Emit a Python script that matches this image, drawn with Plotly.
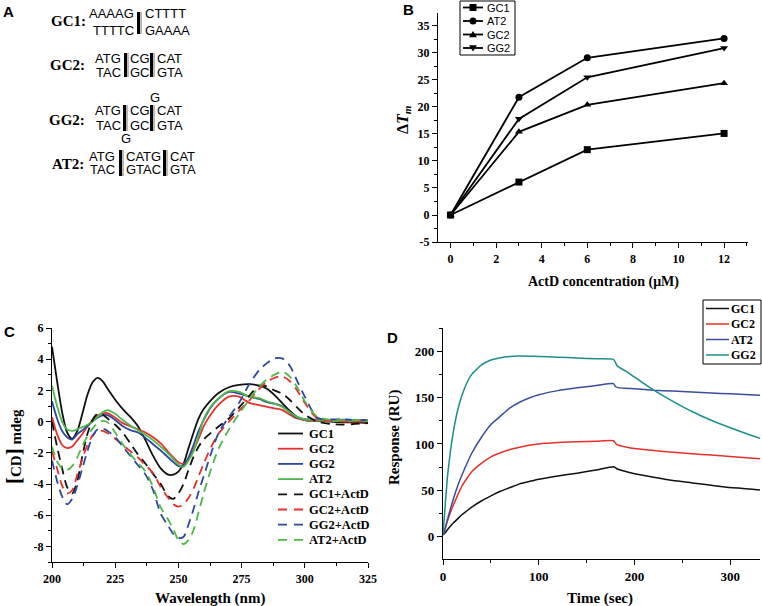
import plotly.graph_objects as go

W, H = 762, 606
SERIF = "Liberation Serif"
SANS = "Liberation Sans"

# ---- panel B: Tm shift vs ActD concentration ----
conc = [0, 3, 6, 12]
dtm_gc1 = [0, 6.1, 12.1, 15.1]
dtm_at2 = [0, 21.8, 29.1, 32.7]
dtm_gc2 = [0, 15.4, 20.4, 24.4]
dtm_gg2 = [0, 17.8, 25.5, 30.9]
b_names = ["GC1", "AT2", "GC2", "GG2"]
b_yticks = [-5, 0, 5, 10, 15, 20, 25, 30, 35]

# ---- panel C: CD spectra ----
wl = [200, 202, 204, 206, 208, 210, 212, 214, 216, 218, 220, 222, 225, 228, 231,
      234, 237, 240, 243, 246, 248, 250, 252, 254, 256, 258, 260, 263, 266, 270,
      274, 278, 282, 285, 288, 291, 294, 297, 300, 305, 310, 315, 320, 325]
cd_gc1 = [4.8, 2.6, 0.6, -0.7, -1.1, -0.6, 0.5, 1.7, 2.5, 2.8, 2.6, 2.1, 1.4, 0.8, 0.3,
          -0.3, -1.2, -2.2, -3.0, -3.4, -3.4, -3.2, -2.7, -1.7, -0.7, 0.2, 0.8, 1.4, 1.85, 2.2,
          2.35, 2.4, 2.3, 2.1, 1.7, 1.2, 0.7, 0.3, 0.1, 0.05, 0.0, -0.05, -0.05, -0.1]
cd_gc2 = [0.3, -0.8, -1.5, -1.7, -1.6, -1.2, -0.8, -0.3, 0.1, 0.4, 0.53, 0.55, 0.25, -0.1, -0.3,
          -0.5, -0.7, -1.0, -1.4, -1.95, -2.3, -2.6, -2.7, -2.4, -1.8, -1.1, -0.3, 0.5, 1.1, 1.6,
          1.6, 1.2, 1.05, 0.95, 0.85, 0.75, 0.45, 0.2, 0.1, 0.05, 0.05, 0.0, 0.0, 0.0]
cd_gg2 = [1.3, 0.2, -0.6, -1.0, -1.15, -0.8, -0.55, -0.3, 0.0, 0.25, 0.4, 0.42, 0.1, -0.3, -0.55,
          -0.7, -1.05, -1.45, -1.85, -2.3, -2.6, -2.85, -2.8, -2.3, -1.5, -0.6, 0.1, 0.95, 1.5, 1.9,
          1.8, 1.6, 1.45, 1.25, 1.15, 1.0, 0.6, 0.25, 0.15, 0.12, 0.1, 0.12, 0.1, 0.1]
cd_at2 = [2.3, 1.0, 0.0, -0.5, -0.6, -0.5, -0.35, -0.2, 0.0, 0.3, 0.6, 0.74, 0.5, 0.1, -0.25,
          -0.55, -0.85, -1.2, -1.6, -2.05, -2.4, -2.75, -2.9, -2.5, -1.9, -0.9, 0.15, 1.0, 1.5, 1.95,
          1.9, 1.6, 1.5, 1.3, 1.15, 0.95, 0.6, 0.3, 0.15, 0.1, 0.05, 0.05, 0.05, 0.05]
cd_gc1_actd = [0.0, -1.6, -3.0, -4.2, -4.6, -3.8, -2.2, -0.8, 0.1, 0.5, 0.45, 0.2, -0.2, -0.7, -1.4,
               -2.1, -2.7, -3.35, -4.0, -4.8, -4.95, -4.6, -4.0, -3.1, -2.25, -1.6, -1.15, -0.7, -0.3, 0.2,
               0.9, 1.65, 2.3, 2.25, 2.0, 1.8, 1.4, 0.9, 0.45, 0.0, -0.15, -0.2, -0.15, -0.1]
cd_gc2_actd = [-1.9, -3.0, -4.1, -4.6, -4.4, -3.4, -2.4, -1.5, -0.9, -0.6, -0.6, -0.75, -1.1, -1.5, -1.9,
               -2.3, -2.8, -3.3, -4.2, -4.9, -5.3, -5.45, -5.3, -4.9, -4.3, -3.5, -2.7, -1.6, -0.75, 0.0,
               0.7, 1.35, 2.1, 2.55, 2.8, 2.9, 2.6, 2.0, 1.2, 0.2, 0.05, 0.05, 0.05, 0.05]
cd_gg2_actd = [-2.5, -3.8, -4.8, -5.3, -4.95, -4.1, -3.0, -1.9, -0.95, -0.5, -0.45, -0.6, -1.0, -1.6, -2.2,
               -2.8, -3.4, -4.4, -5.9, -6.7, -7.2, -7.45, -7.4, -6.6, -5.6, -4.5, -3.5, -2.0, -0.7, 0.3,
               1.2, 2.4, 3.3, 3.75, 4.05, 4.05, 3.6, 2.6, 1.6, 0.25, 0.15, 0.15, 0.1, 0.1]
cd_at2_actd = [-1.6, -2.55, -3.0, -3.1, -2.85, -2.3, -1.55, -0.95, -0.45, -0.1, 0.05, -0.05, -0.7, -1.45, -2.1,
               -2.65, -3.2, -4.2, -5.5, -6.3, -6.9, -7.6, -7.85, -7.6, -6.95, -5.8, -4.6, -3.0, -1.7, -0.5,
               0.5, 1.4, 2.25, 2.7, 3.0, 3.2, 2.9, 2.2, 1.3, 0.3, 0.12, 0.1, 0.1, 0.1]
c_names = ["GC1", "GC2", "GG2", "AT2", "GC1+ActD", "GC2+ActD", "GG2+ActD", "AT2+ActD"]
c_yticks = [-8, -6, -4, -2, 0, 2, 4, 6]

# ---- panel D: SPR sensorgrams ----
t = [0, 2, 5, 10, 15, 20, 25, 30, 40, 50, 60, 70, 80, 90, 100, 120, 140, 160, 178,
     180, 182, 190, 200, 220, 240, 260, 280, 300, 320, 331]
ru_gc1 = [2, 4, 8, 14, 19, 24, 28, 32, 38.5, 44, 49, 53, 57, 59.5, 62, 65.5, 68.5, 72, 75.5,
          74.5, 73, 70.5, 68, 64, 60.5, 58, 55.5, 53, 51.5, 50.5]
ru_gc2 = [2, 8, 18, 32, 44, 55, 63, 70, 79, 86, 90.5, 94, 96.5, 98.5, 100, 101.5, 102.5, 103, 103.5,
          101, 99, 97, 95, 93, 91, 89.5, 88, 86.5, 85, 84]
ru_at2 = [2, 8, 20, 38, 54, 67, 79, 90, 107, 121, 130, 139, 145, 149.5, 153, 157.5, 160.5, 163, 165,
          162, 161, 160, 159.5, 158, 157, 156, 155, 154, 153, 152.5]
ru_gg2 = [2, 30, 68, 108, 135, 153, 166, 175, 185, 190.5, 193, 194.3, 194.7, 194.6, 194.3, 193.6, 192.7, 191.8, 191.2,
          188, 184, 179, 172, 158, 146, 135, 125.5, 117.5, 110, 106]
d_names = ["GC1", "GC2", "AT2", "GG2"]


def px(x):
    return x / W


def py(y):
    return 1 - y / H


fig = go.Figure()

# B
for name, vals, sym in zip(b_names, [dtm_gc1, dtm_at2, dtm_gc2, dtm_gg2],
                           ["square", "circle", "triangle-up", "triangle-down"]):
    fig.add_trace(go.Scatter(x=conc, y=vals, name=name, mode="lines+markers",
                             line=dict(color="black", width=1.8),
                             marker=dict(symbol=sym, size=7, color="black"),
                             xaxis="x", yaxis="y", showlegend=False))

# C
c_colors = ["#111111", "#e8302a", "#2c47a0", "#4db848"] * 2
c_series = [cd_gc1, cd_gc2, cd_gg2, cd_at2, cd_gc1_actd, cd_gc2_actd, cd_gg2_actd, cd_at2_actd]
for i, (name, vals) in enumerate(zip(c_names, c_series)):
    fig.add_trace(go.Scatter(x=wl, y=vals, name=name, mode="lines",
                             line=dict(color=c_colors[i], width=1.8, shape="spline", smoothing=0.8,
                                       dash="solid" if i < 4 else "9px,6px"),
                             xaxis="x2", yaxis="y2", showlegend=False))

# D
d_colors = ["#111111", "#e8302a", "#3a4ea0", "#1a8f8a"]
for name, vals, col in zip(d_names, [ru_gc1, ru_gc2, ru_at2, ru_gg2], d_colors):
    fig.add_trace(go.Scatter(x=t, y=vals, name=name, mode="lines",
                             line=dict(color=col, width=1.5, shape="spline", smoothing=0.5),
                             xaxis="x3", yaxis="y3", showlegend=False))


def ax(domain, rng, anchor, dtick, mdtick, size=12, **kw):
    d = dict(domain=domain, range=rng, anchor=anchor, showline=True, linecolor="black",
             linewidth=1.3, ticks="outside", ticklen=5, tickwidth=1.2, tickcolor="black",
             showgrid=False, zeroline=False, dtick=dtick, tick0=0, automargin=False,
             tickfont=dict(family=SERIF, size=size, color="black", weight="bold"),
             minor=dict(ticks="outside", ticklen=3, tickwidth=1, tickcolor="black", dtick=mdtick, tick0=0))
    d.update(kw)
    return d


fig.update_layout(
    width=W, height=H, margin=dict(l=0, r=0, t=0, b=0, autoexpand=False),
    paper_bgcolor="white", plot_bgcolor="white",
    xaxis=ax([px(438), px(748)], [-0.55, 13.05], "y", 2, 1),
    yaxis=ax([py(242), py(13)], [-5, 37.4], "x", 5, 2.5,
             tickvals=b_yticks, ticktext=[str(v) for v in b_yticks]),
    xaxis2=ax([px(52), px(368)], [200, 325], "y2", 25, 12.5),
    yaxis2=ax([py(562), py(328)], [-9, 6], "x2", 2, 1,
              tickvals=c_yticks, ticktext=[str(v) for v in c_yticks]),
    xaxis3=ax([px(443), px(760)], [0, 331], "y3", 100, 50, size=13),
    yaxis3=ax([py(559), py(328)], [-24, 225], "x3", 50, 25, size=13),
)

ann = []
shapes = []


def text(s, x, y, size=13, family=SANS, xanchor="center", angle=0, bold=False):
    ann.append(dict(text="<b>%s</b>" % s if bold else s, x=px(x), y=py(y), xref="paper", yref="paper",
                    xanchor=xanchor, yanchor="middle", showarrow=False, textangle=angle,
                    font=dict(family=family, size=size, color="black")))


def bar(x, y0, y1):
    shapes.append(dict(type="rect", xref="paper", yref="paper", x0=px(x + 3), x1=px(x + 5),
                       y0=py(y1), y1=py(y0), fillcolor="#b8b8b8", line=dict(width=0)))
    shapes.append(dict(type="rect", xref="paper", yref="paper", x0=px(x), x1=px(x + 3),
                       y0=py(y1), y1=py(y0), fillcolor="black", line=dict(width=0)))


# panel labels
text("A", 8, 11, 15, bold=True)
text("B", 408, 9, 15, bold=True)
text("C", 9, 331, 15, bold=True)
text("D", 392, 337, 15, bold=True)

# panel A: duplex sequences
text("GC1:", 88, 21, 15, SERIF, "right", bold=True)
text("AAAAG", 136, 14, xanchor="right")
text("TTTTC", 136, 30, xanchor="right")
bar(137, 12, 34)
text("CTTTT", 143, 14, xanchor="left")
text("GAAAA", 143, 30, xanchor="left")

text("GC2:", 87, 65, 15, SERIF, "right", bold=True)
text("ATG", 123, 58, xanchor="right")
text("TAC", 123, 72, xanchor="right")
bar(124, 53, 77)
text("CG", 128, 58, xanchor="left")
text("GC", 128, 72, xanchor="left")
bar(150, 53, 77)
text("CAT", 155, 58, xanchor="left")
text("GTA", 155, 72, xanchor="left")

text("GG2:", 87, 120, 15, SERIF, "right", bold=True)
text("G", 155, 98)
text("ATG", 123, 111, xanchor="right")
text("TAC", 123, 126, xanchor="right")
bar(123, 105, 131)
text("CG", 128, 111, xanchor="left")
text("GC", 128, 126, xanchor="left")
bar(150, 105, 131)
text("CAT", 155, 111, xanchor="left")
text("GTA", 155, 126, xanchor="left")
text("G", 126, 138)

text("AT2:", 86, 164, 15, SERIF, "right", bold=True)
text("ATG", 117, 156, xanchor="right")
text("TAC", 117, 170, xanchor="right")
bar(119, 150, 176)
text("CATG", 124, 156, xanchor="left")
text("GTAC", 124, 170, xanchor="left")
bar(163, 150, 176)
text("CAT", 168, 156, xanchor="left")
text("GTA", 168, 170, xanchor="left")

# axis titles
text("ActD concentration (μM)", 603, 282, 14, SERIF, bold=True)
text("Δ<i>T</i><sub><i>m</i></sub>", 404, 120, 16, SERIF, angle=-90, bold=True)
text("Wavelength (nm)", 210, 598, 15, SERIF, bold=True)
text("<span style='font-size:21px'>[</span>CD<span style='font-size:21px'>]</span> mdeg",
     14, 447, 15, SERIF, angle=-90, bold=True)
text("Time (sec)", 600, 598, 15, SERIF, bold=True)
text("Response (RU)", 394, 438, 15, SERIF, angle=-90, bold=True)


def hline(x0, x1, y, color, width, dash="solid"):
    shapes.append(dict(type="line", xref="paper", yref="paper", x0=px(x0), x1=px(x1),
                       y0=py(y), y1=py(y), line=dict(color=color, width=width, dash=dash)))


def marker(kind, cx, cy, r=3.5):
    if kind == "square":
        shapes.append(dict(type="rect", xref="paper", yref="paper", x0=px(cx - r), x1=px(cx + r),
                           y0=py(cy + r), y1=py(cy - r), fillcolor="black", line=dict(width=0)))
    elif kind == "circle":
        shapes.append(dict(type="circle", xref="paper", yref="paper", x0=px(cx - r), x1=px(cx + r),
                           y0=py(cy + r), y1=py(cy - r), fillcolor="black", line=dict(width=0)))
    else:
        s = -1 if kind == "up" else 1
        pts = [(cx, cy + s * r), (cx - r - 0.5, cy - s * r * 0.8), (cx + r + 0.5, cy - s * r * 0.8)]
        path = "M " + " L ".join("%f,%f" % (px(a), py(b)) for a, b in pts) + " Z"
        shapes.append(dict(type="path", xref="paper", yref="paper", path=path,
                           fillcolor="black", line=dict(width=0)))


# legend B
shapes.append(dict(type="rect", xref="paper", yref="paper", x0=px(460), x1=px(515), y0=py(55), y1=py(1),
                   line=dict(color="black", width=1), fillcolor="white"))
for i, (name, kind) in enumerate(zip(b_names, ["square", "circle", "up", "down"])):
    yy = 7.5 + i * 13.5
    hline(463, 483, yy, "black", 1.8)
    marker(kind, 473, yy)
    text(name, 485, yy, 11, SANS, "left")

# legend C
for i, name in enumerate(c_names):
    yy = 433.5 + i * 15.2
    hline(278, 303, yy, c_colors[i], 1.8, "solid" if i < 4 else "9px,7px")
    text(name, 307, yy, 12.5, SERIF, "left", bold=True)

# legend D
shapes.append(dict(type="rect", xref="paper", yref="paper", x0=px(703), x1=px(761), y0=py(364), y1=py(300),
                   line=dict(color="black", width=1), fillcolor="white"))
for i, name in enumerate(d_names):
    yy = 308.5 + i * 15.5
    hline(706, 729, yy, d_colors[i], 1.5)
    text(name, 729, yy, 12, SERIF, "left", bold=True)

fig.update_layout(annotations=ann, shapes=shapes)
fig.write_html("out.html", config={"displayModeBar": False},
               post_script="document.body.style.margin='0';")
